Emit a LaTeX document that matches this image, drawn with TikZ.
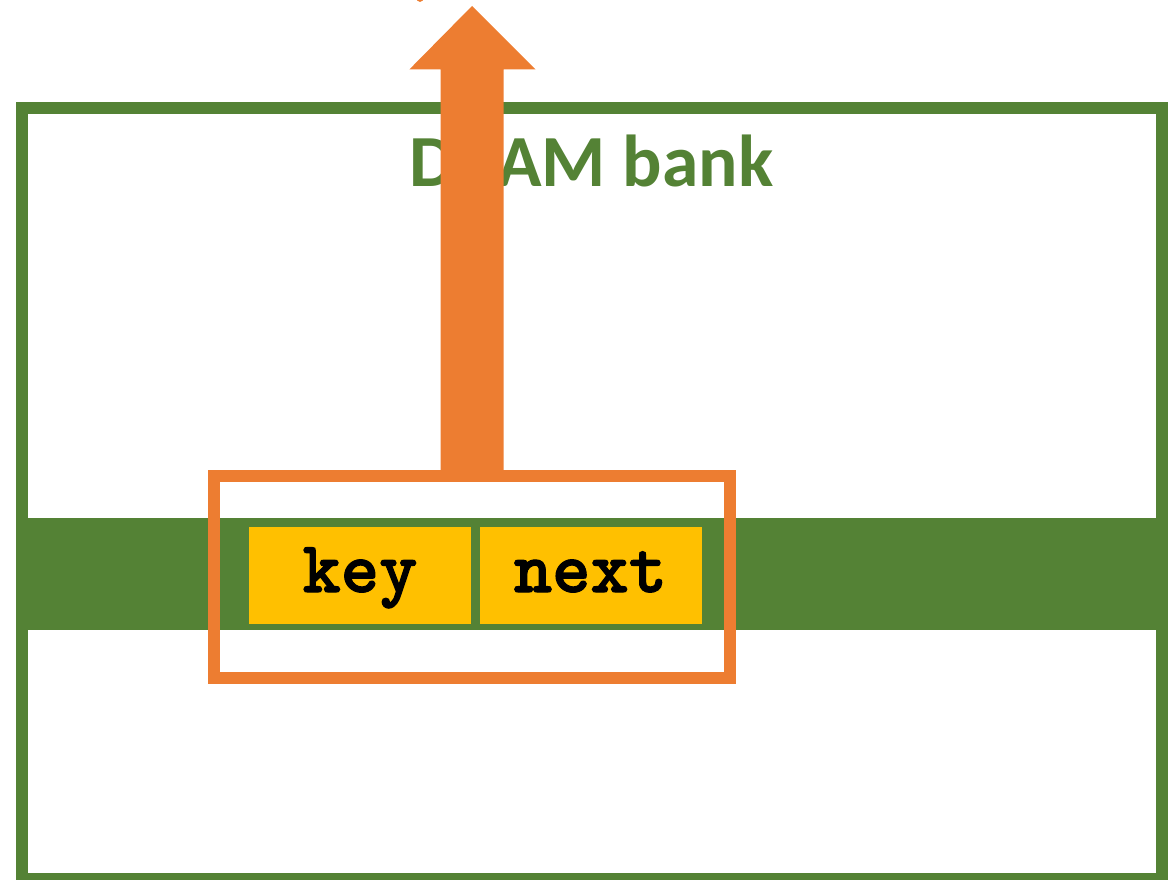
\documentclass[tikz,border=0pt]{standalone}
\usepackage{fontspec}
\newfontfamily\titlefont{Carlito}
\newfontfamily\codefont{Latin Modern Mono Light}[BoldFeatures={FakeBold=1.5}]
\definecolor{bankgreen}{HTML}{548235}
\definecolor{accorange}{HTML}{ED7D31}
\definecolor{cellyellow}{HTML}{FFC000}
\begin{document}
\begin{tikzpicture}[x=1pt,y=-1pt,
  cell/.style={fill=cellyellow, draw=none, inner sep=0pt,
    minimum width=222pt, minimum height=97pt,
    text height=48pt, text depth=15pt,
    font=\codefont\bfseries\fontsize{73}{73}\selectfont},
  frame/.style={draw=bankgreen, line width=12pt},
  selbox/.style={draw=accorange, line width=12pt}]
\useasboundingbox (0,0) rectangle (1175,880);
\begin{scope}
\clip (0,0) rectangle (1175,880);
% row buffer band
\fill[bankgreen] (28,517.5) rectangle (1156,630);
% bank outline
\draw[frame] (22,108) rectangle (1161.5,878.7);
% title
\node[anchor=base, text=bankgreen, inner sep=0pt,
  font=\titlefont\bfseries\fontsize{73.5}{73.5}\selectfont] (title) at (591.5,186) {DRAM bank};
% key / next cells
\node[cell] (key) at (360,575.5) {key};
\node[cell] (next) at (590.5,575.5) {next};
% selected entry box
\node[selbox, inner sep=0pt, minimum width=516pt, minimum height=202pt] (sel) at (472,577) {};
% read-out arrow
\fill[accorange] (440.5,476) -- (440.5,69.5) -- (409.3,69.5) -- (472,6)
  -- (535.7,69.5) -- (503.5,69.5) -- (503.5,476) -- cycle;
\fill[accorange] (420,-3) ellipse (4 and 5);
\end{scope}
\end{tikzpicture}
\end{document}
